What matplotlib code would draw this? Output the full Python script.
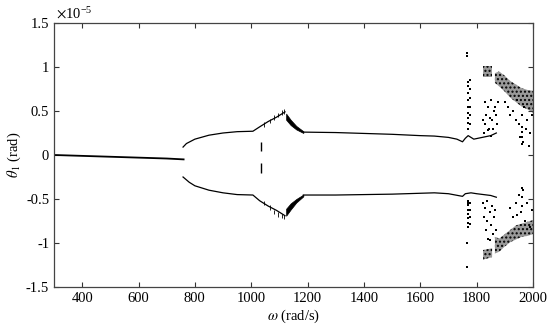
import matplotlib
matplotlib.use("Agg")
import matplotlib.pyplot as plt

plt.rcParams["font.family"] = ["Liberation Serif", "DejaVu Serif"]
plt.rcParams["mathtext.fontset"] = "stix"
plt.rcParams["hatch.linewidth"] = 1.0

# ---- data (theta_1 in units of 1e-5 rad) ----------------------------------
# single branch before the bifurcation
single_w = [300, 400, 500, 600, 700, 760]
single_v = [0.0, -0.01, -0.02, -0.03, -0.04, -0.05]

# upper / lower periodic branches
up_w = [758, 770, 800, 850, 900, 950, 1006, 1030, 1060, 1090, 1120]
up_v = [0.09, 0.13, 0.18, 0.225, 0.25, 0.265, 0.27, 0.32, 0.38, 0.43, 0.49]
lo_w = [758, 780, 800, 850, 900, 950, 1006, 1030, 1060, 1090, 1120]
lo_v = [-0.25, -0.31, -0.35, -0.40, -0.43, -0.45, -0.455, -0.52, -0.58, -0.63, -0.69]

up2_w = [1185, 1300, 1400, 1500, 1600, 1650, 1700, 1730, 1750, 1760, 1770, 1790, 1820, 1850, 1870]
up2_v = [0.26, 0.255, 0.245, 0.235, 0.22, 0.215, 0.20, 0.18, 0.15, 0.19, 0.22, 0.18, 0.20, 0.22, 0.25]
lo2_w = [1185, 1300, 1400, 1500, 1600, 1650, 1700, 1750, 1760, 1780, 1800, 1850, 1870]
lo2_v = [-0.455, -0.455, -0.45, -0.445, -0.435, -0.43, -0.44, -0.47, -0.44, -0.43, -0.44, -0.46, -0.48]

# thick blocks around 1120-1185
blk_w = [1124, 1140, 1160, 1185]
blk_up_hi = [0.47, 0.40, 0.33, 0.27]
blk_up_lo = [0.40, 0.34, 0.29, 0.25]
blk_lo_hi = [-0.61, -0.55, -0.50, -0.45]
blk_lo_lo = [-0.69, -0.62, -0.54, -0.47]

# spiky marks on the rising part 1006-1120
spike_w = [1045, 1065, 1080, 1095, 1108, 1116]
spike_up = [0.37, 0.41, 0.45, 0.48, 0.51, 0.52]
spike_lo = [-0.57, -0.62, -0.67, -0.70, -0.72, -0.73]

# vertical dashes at ~1035
dash_w = [1035, 1035]
dash_lo = [0.04, -0.20]
dash_hi = [0.15, -0.09]

# dense chaotic bands
band_w = [1865, 1880, 1900, 1920, 1940, 1960, 1980, 2000]
band_up_lo = [0.82, 0.78, 0.72, 0.65, 0.60, 0.55, 0.52, 0.48]
band_up_hi = [0.93, 0.95, 0.90, 0.84, 0.80, 0.76, 0.74, 0.73]
band_lo_lo = [-1.12, -1.10, -1.04, -0.99, -0.96, -0.93, -0.92, -0.90]
band_lo_hi = [-0.93, -0.95, -0.90, -0.85, -0.80, -0.78, -0.76, -0.74]
blk2_w = [1823, 1855]
blk2_up_lo = [0.89, 0.89]
blk2_up_hi = [1.01, 1.01]
blk2_lo_lo = [-1.19, -1.16]
blk2_lo_hi = [-1.08, -1.06]

# scattered chaotic points
sc_w = [1766, 1766, 1768, 1768, 1768, 1768, 1768, 1768, 1768, 1768, 1768,
        1777, 1777, 1777, 1777, 1777, 1777,
        1822, 1825, 1830, 1830, 1835, 1840, 1840, 1845, 1848, 1850, 1852,
        1855, 1858, 1860, 1865, 1868, 1872, 1875,
        1900, 1910, 1920, 1930, 1940, 1945, 1950, 1955, 1960, 1965, 1970,
        1975, 1980, 1985, 1990, 1995, 1962, 1962, 1962, 1962,
        1766, 1768, 1768, 1768, 1768, 1768, 1768, 1768, 1766, 1768,
        1777, 1777, 1777, 1777,
        1822, 1826, 1830, 1834, 1838, 1842, 1846, 1850, 1854, 1858, 1862,
        1866, 1870, 1836, 1848,
        1920, 1930, 1940, 1950, 1958, 1965, 1972, 1980, 1988, 1995, 1962,
        1962, 1962, 1945]
sc_v = [1.16, 1.12, 0.83, 0.78, 0.70, 0.62, 0.55, 0.48, 0.42, 0.36, 0.30,
        0.85, 0.75, 0.65, 0.55, 0.45, 0.35,
        0.40, 0.25, 0.35, 0.60, 0.45, 0.55, 0.28, 0.30, 0.42, 0.62, 0.22,
        0.40, 0.30, 0.50, 0.55, 0.45, 0.35, 0.60,
        0.60, 0.55, 0.45, 0.50, 0.40, 0.62, 0.35, 0.20, 0.45, 0.15, 0.55,
        0.30, 0.40, 0.10, 0.25, 0.45, 0.32, 0.26, 0.20, 0.12,
        -1.27, -0.52, -0.57, -0.62, -0.67, -0.72, -0.77, -0.82, -1.00, -0.55,
        -0.55, -0.62, -0.70, -0.78,
        -0.55, -0.70, -0.60, -0.85, -0.75, -0.95, -0.65, -0.80, -0.58, -0.90,
        -0.70, -0.62, -0.85, -0.52, -0.97,
        -0.60, -0.70, -0.55, -0.45, -0.65, -0.40, -0.75, -0.55, -0.82, -0.62,
        -0.38, -0.48, -0.58, -0.68]

yticks = [-1.5, -1, -0.5, 0, 0.5, 1, 1.5]
ytick_labels = ["-1.5", "-1", "-0.5", "0", "0.5", "1", "1.5"]
xticks = [400, 600, 800, 1000, 1200, 1400, 1600, 1800, 2000]

# ---- figure ----------------------------------------------------------------
fig = plt.figure(figsize=(5.5, 3.31), dpi=100)
ax = fig.add_axes([0.0982, 0.133, 0.8708, 0.7975])
k = "black"

ax.plot(single_w, single_v, color=k, lw=1.3)
for w, v in ((up_w, up_v), (lo_w, lo_v), (up2_w, up2_v), (lo2_w, lo2_v)):
    ax.plot(w, v, color=k, lw=0.9)

ax.fill_between(blk_w, blk_up_lo, blk_up_hi, color=k, lw=0.5)
ax.fill_between(blk_w, blk_lo_lo, blk_lo_hi, color=k, lw=0.5)
ax.vlines(spike_w, [v - 0.05 for v in spike_up], spike_up, color=k, lw=0.6)
ax.vlines(spike_w, spike_lo, [v + 0.05 for v in spike_lo], color=k, lw=0.6)
ax.vlines(dash_w, dash_lo, dash_hi, color=k, lw=1.0)

# speckled bands: grey body with black dotted hatch
for w, lo, hi in ((band_w, band_up_lo, band_up_hi),
                  (band_w, band_lo_lo, band_lo_hi),
                  (blk2_w, blk2_up_lo, blk2_up_hi),
                  (blk2_w, blk2_lo_lo, blk2_lo_hi)):
    ax.fill_between(w, lo, hi, facecolor="#9a9a9a", edgecolor=k,
                    hatch="....", lw=0)
ax.scatter(sc_w, sc_v, s=0.7, color=k, marker="s", lw=0)

ax.set_xlim(300, 2000)
ax.set_ylim(-1.5, 1.5)
ax.set_xticks(xticks)
ax.set_yticks(yticks)
ax.set_yticklabels(ytick_labels)
ax.tick_params(direction="in", top=True, right=True, length=3.5, width=0.8,
               labelsize=10.5, colors="#333333", labelcolor="black")
for s in ax.spines.values():
    s.set_color("#444444")
    s.set_linewidth(0.9)

ax.set_xlabel(r"$\omega$ (rad/s)", fontsize=10.5, labelpad=2)
ax.set_ylabel(r"$\theta_1$ (rad)", fontsize=10.5, labelpad=2)
ax.text(0.005, 1.005, r"$\times\mathregular{10^{-5}}$", transform=ax.transAxes,
        fontsize=10.5, ha="left", va="bottom")

fig.savefig("out.png", dpi=100)
